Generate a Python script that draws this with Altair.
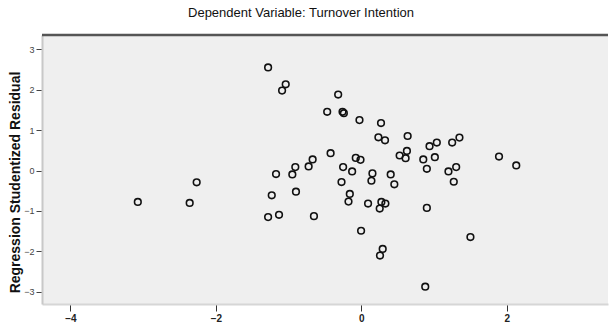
import altair as alt
import pandas as pd

x_vals = [-1.282, -1.040, -1.090, -0.319, -0.470, -0.259, -0.241, -0.026, 0.270, 0.234,
          0.325, 0.636, -0.423, -0.670, -0.725, -0.908, -0.949, -1.173, -2.264, -3.073,
          -2.360, -1.232, -0.899, -1.282, -1.132, -0.652, -0.077, -0.012, -0.251, -0.127,
          -0.273, 0.152, 0.138, 0.403, 0.453, 0.526, 0.626, 0.608, 0.851, 0.900,
          1.010, 0.937, 1.037, 1.248, 1.348, 1.197, 1.303, 1.270, 1.892, 2.129,
          -0.159, -0.177, 0.092, 0.275, 0.330, 0.252, 0.900, -0.004, 1.499, 0.293,
          0.256, 0.878]
y_vals = [2.548, 2.130, 1.975, 1.877, 1.452, 1.452, 1.418, 1.246, 1.172, 0.821,
          0.747, 0.853, 0.428, 0.273, 0.101, 0.084, -0.096, -0.088, -0.292, -0.776,
          -0.801, -0.612, -0.523, -1.152, -1.096, -1.128, 0.312, 0.263, 0.084, -0.022,
          -0.285, -0.071, -0.253, -0.096, -0.342, 0.371, 0.484, 0.305, 0.273, 0.042,
          0.329, 0.600, 0.690, 0.690, 0.813, -0.022, 0.084, -0.278, 0.346, 0.125,
          -0.580, -0.769, -0.818, -0.776, -0.818, -0.941, -0.924, -1.489, -1.644, -1.939,
          -2.103, -2.872]

x_ticks = [-4, -2, 0, 2]
y_ticks = [-3, -2, -1, 0, 1, 2, 3]

df = pd.DataFrame({"pred": x_vals, "resid": y_vals})

W, H = 566, 269
FONT = "Liberation Sans"

points = alt.Chart(df).mark_point(
    shape="circle", filled=False, stroke="#111111", strokeWidth=1.6, size=44, opacity=1
).encode(
    x=alt.X("pred:Q", scale=alt.Scale(domain=[-4.39, 3.39], nice=False, zero=False),
            axis=alt.Axis(values=x_ticks, title=None, grid=False, domainColor="#d6d6d6",
                          domainWidth=2, tickColor="#333333", tickSize=7, tickWidth=1,
                          labelFont=FONT, labelFontSize=10, labelFontWeight="bold",
                          labelColor="#222222", labelPadding=2)),
    y=alt.Y("resid:Q", scale=alt.Scale(domain=[-3.3, 3.35], nice=False, zero=False),
            axis=alt.Axis(values=y_ticks, title="Regression Studentized Residual", grid=False,
                          domainColor="#c8c8c8", domainWidth=2, tickColor="#444444",
                          tickSize=6, tickWidth=1, labelFont=FONT, labelFontSize=9,
                          labelColor="#444444", labelPadding=2,
                          titleFont=FONT, titleFontSize=14, titleFontWeight="bold",
                          titleColor="#111111", titleAngle=-90, titleX=-27, titleY=147,
                          titleAlign="center", titleBaseline="middle")),
)

top_border = alt.Chart(pd.DataFrame({"k": [0]})).mark_rule(
    stroke="#555555", strokeWidth=2.5
).encode(x=alt.value(0), x2=alt.value(W), y=alt.value(0))

chart = alt.layer(points, top_border).properties(
    width=W, height=H,
    padding={"left": 42, "top": 35, "right": 6, "bottom": 24},
    autosize=alt.AutoSizeParams(type="none"),
    background="white",
    title=alt.TitleParams("Dependent Variable: Turnover Intention", font=FONT, fontSize=13,
                          fontWeight="normal", color="#111111", anchor="middle",
                          offset=14, dx=-24),
).configure_view(fill="#efefef", stroke=None)

chart.save("out.html", embed_options={"renderer": "svg", "actions": False})
